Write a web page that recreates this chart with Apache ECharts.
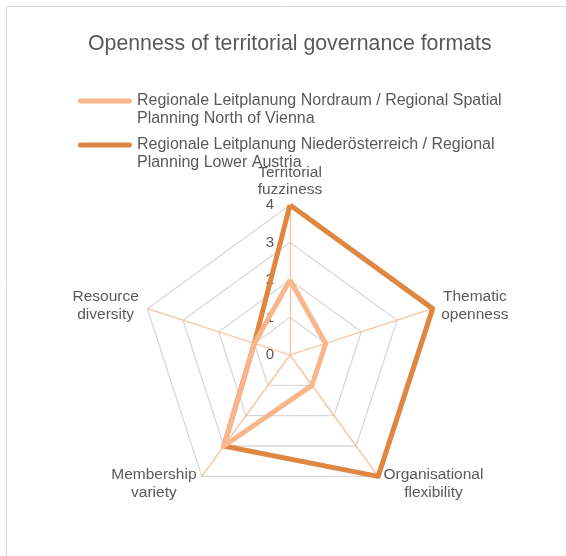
<!DOCTYPE html>
<html>
<head>
    <meta charset="UTF-8">
    <script src="https://cdn.jsdelivr.net/npm/echarts@6/dist/echarts.min.js"></script>
</head>
<body style="margin:0;">
    <div id="main" style="width: 566px; height: 556px;"></div>
    <script>
        // 数据 (ECharts 雷达图为逆时针, 所以这里顺序为 上 / 左 / 左下 / 右下 / 右)
        var indicators = ['Territorial\nfuzziness', 'Resource\ndiversity', 'Membership\nvariety', 'Organisational\nflexibility', 'Thematic\nopenness'];
        var nordraum = [2, 1, 3, 1, 1];
        var lowerAustria = [4, 1, 3, 4, 4];
        var seriesNames = [
            'Regionale Leitplanung Nordraum / Regional Spatial\nPlanning North of Vienna',
            'Regionale Leitplanung Niederösterreich / Regional\nPlanning Lower Austria'
        ];
        var maxValue = 4;

        var myChart = echarts.init(document.getElementById('main'));
        var font = 'Liberation Sans, Arial, sans-serif';

        // 图例线条: 上方画线, 下方放一个极小的点把图标撑高, 让线对齐第一行文字
        var legendIcon = 'path://M2.5,0 H51.5 A2.5,2.5 0 0 1 51.5,5 H2.5 A2.5,2.5 0 0 1 2.5,0 Z M27,23 h0.01 v0.01 h-0.01 Z';

        var nameStyle = { align: 'center', color: '#595959', fontSize: 15.5, lineHeight: 18.5, fontFamily: font };

        var option = {
            backgroundColor: '#fff',
            textStyle: { fontFamily: font },
            graphic: [{
                type: 'rect',
                shape: { x: 6.5, y: 6.5, width: 600, height: 600 },
                style: { fill: 'none', stroke: '#d9d9d9', lineWidth: 1 },
                silent: true
            }],
            title: {
                text: 'Openness of territorial governance formats',
                left: 83,
                top: 29,
                textStyle: { color: '#595959', fontSize: 21.3, fontWeight: 'normal', fontFamily: font }
            },
            legend: {
                orient: 'vertical',
                left: 78,
                top: 92,
                padding: 0,
                itemWidth: 54,
                itemHeight: 23,
                itemGap: 8,
                icon: legendIcon,
                textStyle: { color: '#595959', fontSize: 16, lineHeight: 18, fontFamily: font },
                data: seriesNames
            },
            radar: {
                center: [290, 355],
                radius: 150,
                startAngle: 90,
                shape: 'polygon',
                splitNumber: 4,
                axisName: {
                    color: '#595959', fontSize: 15.5, lineHeight: 18.5, fontFamily: font,
                    formatter: function (name) {
                        var key = name.indexOf('Territorial') === 0 ? 't' : 'c';
                        return name.split('\n').map(function (s) { return '{' + key + '|' + s + '}'; }).join('\n');
                    },
                    rich: {
                        c: nameStyle,
                        t: Object.assign({}, nameStyle, { lineHeight: 17, padding: [0, 0, -8, 0] })
                    }
                },
                nameGap: 9,
                splitArea: { show: false },
                splitLine: { lineStyle: { color: '#d9d9d9', width: 1.3 } },
                axisLine: { lineStyle: { color: '#f8c19a', width: 1.3 } },
                axisTick: { show: false },
                axisLabel: { show: false },
                indicator: indicators.map(function (n, i) {
                    var ind = { name: n, min: 0, max: maxValue };
                    if (i === 0) {
                        ind.axisLabel = { show: true, color: '#595959', fontSize: 15, margin: 16, fontFamily: font };
                    }
                    return ind;
                })
            },
            series: [{
                type: 'radar',
                symbol: 'none',
                z: 3,
                data: [{
                    name: seriesNames[0],
                    value: nordraum,
                    lineStyle: { color: '#f9b68b', width: 5 },
                    itemStyle: { color: '#f9b68b' }
                }]
            }, {
                type: 'radar',
                symbol: 'none',
                z: 2,
                data: [{
                    name: seriesNames[1],
                    value: lowerAustria,
                    lineStyle: { color: '#df8640', width: 5 },
                    itemStyle: { color: '#df8640' }
                }]
            }]
        };
        myChart.setOption(option);
    </script>
</body>
</html>
